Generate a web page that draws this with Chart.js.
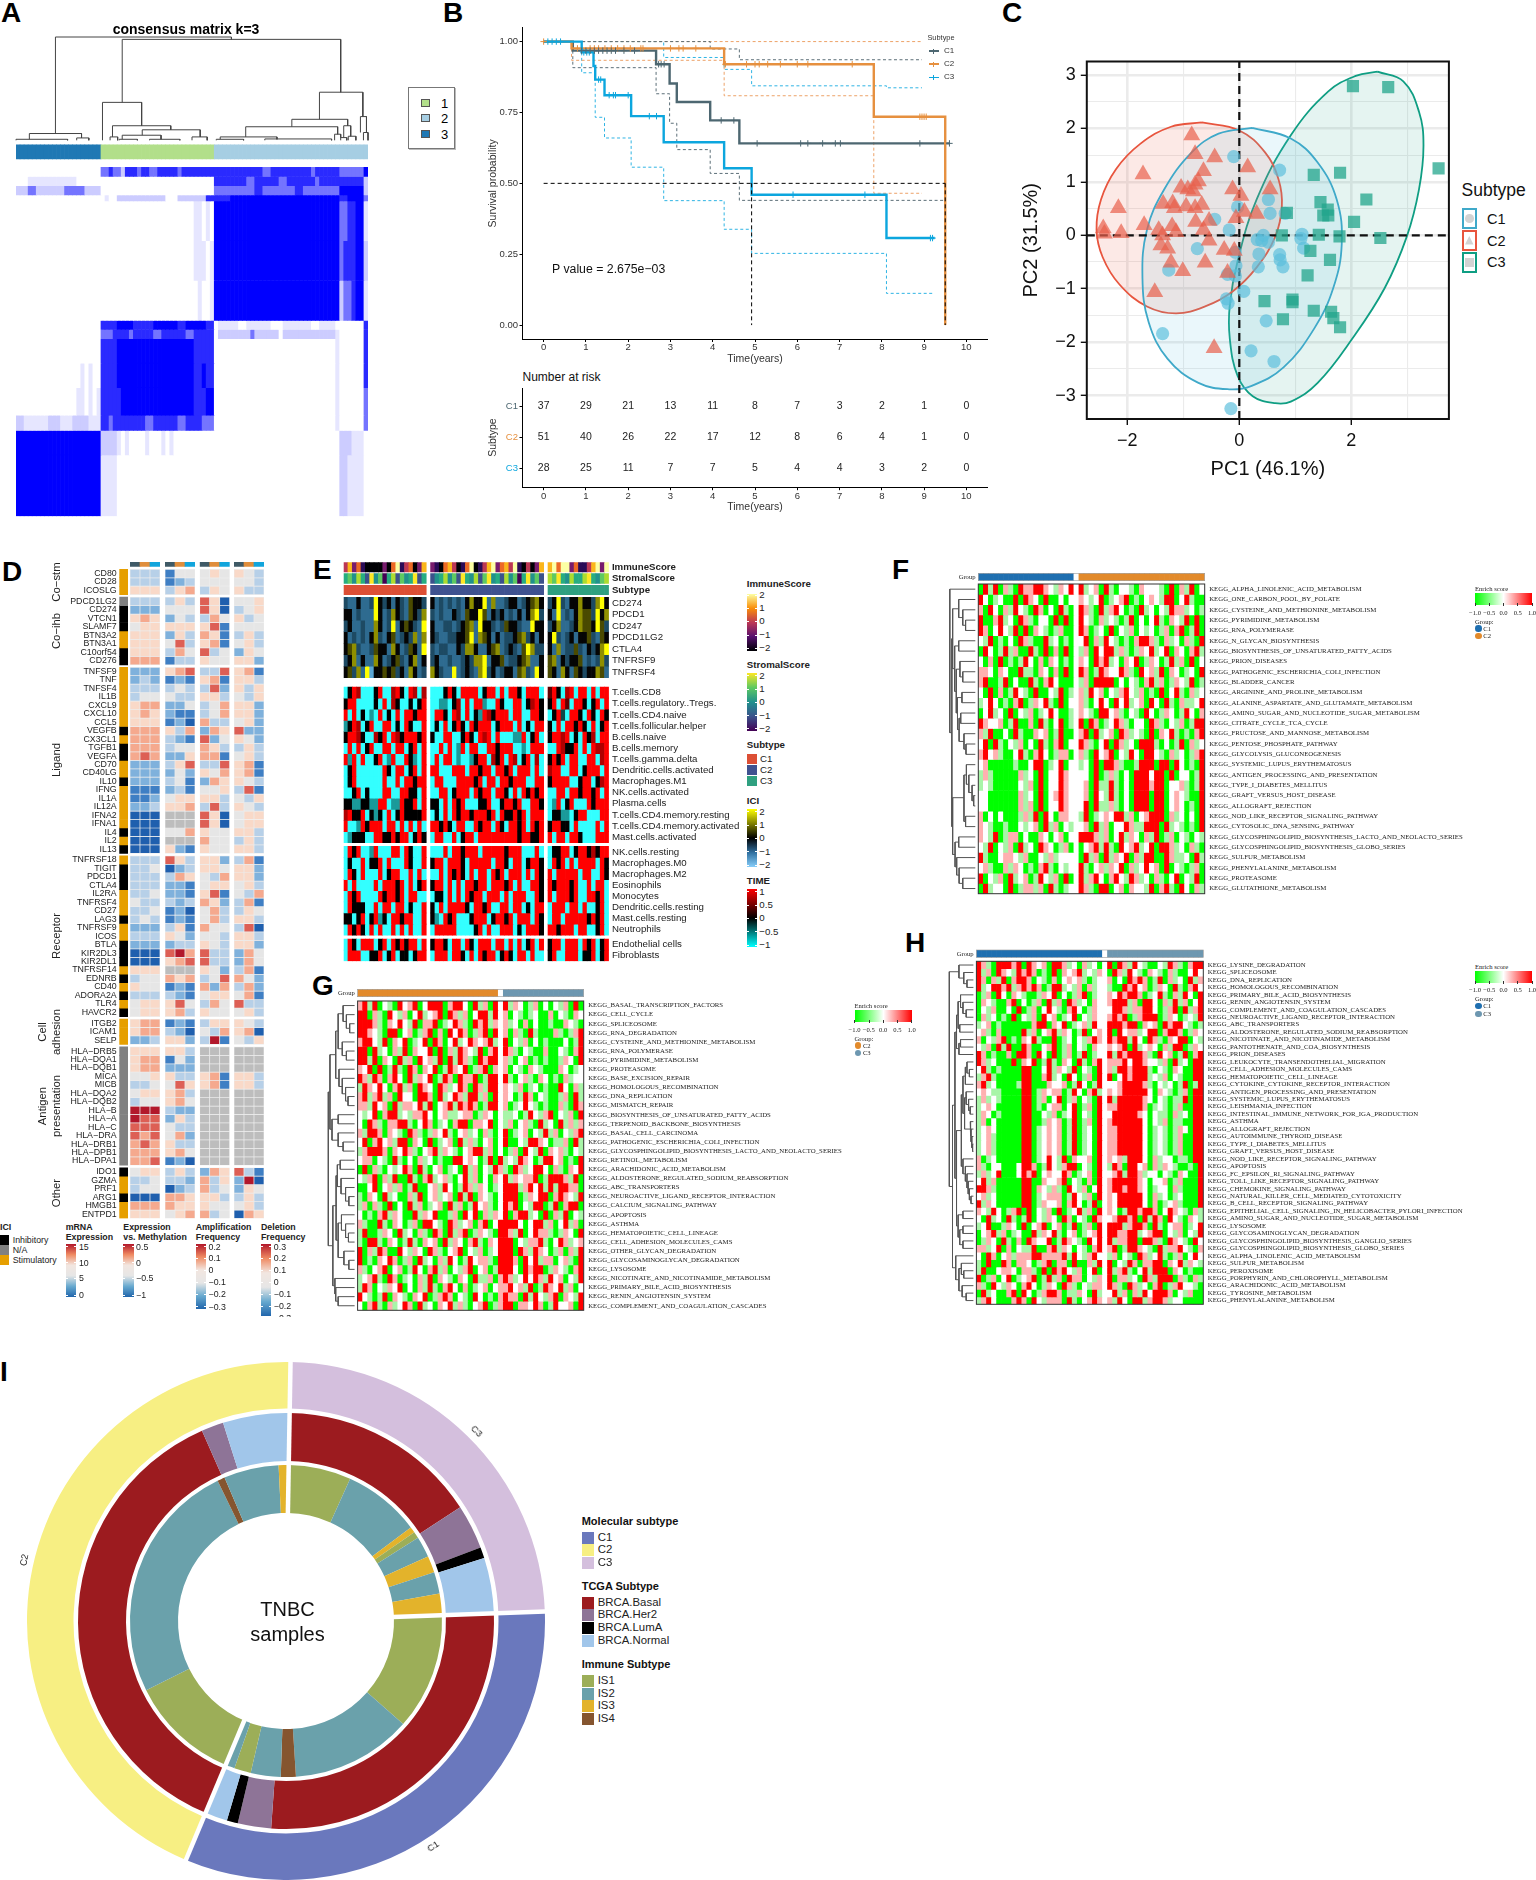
<!DOCTYPE html>
<html lang="en">
<head>
<meta charset="UTF-8">
<title>TNBC subtypes figure</title>
<script src="https://cdn.jsdelivr.net/npm/chart.js"></script>
<style>
  body { margin: 0; background: #fff; }
  #page { position: relative; width: 1536px; height: 1880px; overflow: hidden; font-family: "Liberation Sans", Arial, sans-serif; color: #222; }
  #page canvas { position: absolute; }
  .t { position: absolute; white-space: nowrap; line-height: 1; }
  .b { position: absolute; box-sizing: border-box; }
</style>
</head>
<body>
<div id="page"></div>
<script>
// ---------- panel A: consensus matrix, runs of "level + count" per row, [runs, repeat]
const aRows = [
  ['w21 m2 d1 m2 q1 d3 m1 d2 m2 d5 m1 d8 d12 m2 d10 m1 d6 m6 b1', 3],
  ['w3 p12 w6 w28 d8 m2 d6 m2 d7 m1 d5 d6 q1', 3],
  ['q3 m2 q7 m5 q4 w28 m10 d2 m8 d2 m9 b6 q1', 3],
  ['w21 w1 p1 w2 q12 w3 q7 d2 d4 b27 d2 b4 m1', 2],
  ['w21 w23 p2 w1 p1 w1 b31 m2 d2 b2 p1', 13],
  ['w21 w23 p3 w1 p1 b31 m1 d3 b2 q1', 13],
  ['w21 w24 p1 w2 p1 b31 q1 m2 d1 b2 p1', 13],
  ['w21 d4 b4 d5 b6 d2 b5 d2 w1 p5 w2 p6 w3 p7 w2 p4 w1 w6 d1', 3],
  ['w21 m3 d4 m1 d5 m2 d6 m2 d5 w1 q8 m1 q6 w1 q13 p1 w6 d1', 3],
  ['w21 d4 b19 d5 w30 p1 w6 d1', 8],
  ['w16 p1 w1 p1 w2 d4 b19 d2 b1 d2 w30 p1 w6 d1', 8],
  ['w15 p2 w1 p1 w1 p1 d5 b18 d3 b2 w30 p1 w6 m1', 9],
  ['q2 p6 q3 p3 q4 p3 d2 m1 d8 m2 d6 m2 d4 m3 w30 p1 w6 m1', 5],
  ['b21 q4 p1 w1 p1 w4 p1 w3 p1 w1 p1 w10 w31 q3 p3 w1', 8],
  ['b21 p4 w24 w31 q2 p4 w1', 20]
];
const aGroupCols = [21, 28, 38];
const aDend = [[305,13,20,71,298],[298,35,112,107,142],[112,28.5,0,41.4,43],[43,31.8,10,51,31],[31,41.6,15,60.7,10],[15,35,3,47.8,3],[10,31,0,33.5,0],[3,34,0,40,0],[3,44,0,54,0],[10,58,0,63,0],[20,4.4,3,21.6,7],[3,0,0,17,0],[7,20,0,24,0],[142,100,62,114.3,70],[62,90.9,40,109.3,43],[40,75.7,10,106,18],[10,67.3,3,86,3],[3,66,0,75,0],[4,82,0,104,0],[18,105,0,107,8],[43,108,8,110.3,12],[8,107,0,109,0],[12,109.5,0,112,0],[70,113.5,23,115.5,23],[23,114.5,0,116,0]];

// ---------- panel B: Kaplan-Meier steps
const c1Time = [0,.69,2.66,2.98,3.15,3.94,4.63,9.6], c1Surv = [1,.968,.92,.852,.787,.722,.641,.641];
const c2Time = [0,.66,4.27,7.81,9.5], c2Surv = [1,.976,.92,.735,0];
const c3Time = [0,.9,1.18,1.22,1.44,2.07,2.84,4.27,4.92,8.11,9.25], c3Surv = [1,.962,.914,.866,.811,.737,.645,.553,.46,.307,.307];
const c1LowT = [.69,.69,2.66,2.98,3.15,3.94,4.63,9.5], c1LowS = [.968,.908,.816,.712,.619,.535,.44,.44];
const c1UpT = [0,3.94,4.63,8.95], c1UpS = [1,.974,.936,.936];
const c2LowT = [.66,.66,4.27,7.81,8.95], c2LowS = [.976,.934,.809,.465,.465];
const c2UpT = [0,8.95], c2UpS = [1,1];
const c3LowT = [.9,.9,1.22,1.44,2.07,2.84,4.27,4.92,8.11,9.2], c3LowS = [.962,.89,.733,.66,.557,.439,.338,.253,.112,.112];
const c3UpT = [0,2.84,4.27,4.92,8.11,8.95], c3UpS = [1,.944,.902,.844,.837,.837];
const c1CensT = [.9,1,1.1,1.2,1.3,1.4,1.5,1.6,1.7,1.9,2.15,2.72,2.78,2.85,4.2,4.5,5.05,6.08,6.25,6.6,6.9,7.02,8.9,9.6];
const c1CensS = [.968,.968,.968,.968,.968,.968,.968,.968,.968,.968,.968,.92,.92,.92,.722,.722,.641,.641,.641,.641,.641,.641,.641,.641];
const c2CensT = [0,.8,1.1,1.2,1.3,1.45,1.6,1.75,1.9,2.05,2.3,2.35,3,3.2,3.3,3.6,4.3,4.8,5,5.1,5.3,5.6,6,6.25,7.3,8.9,8.95,9,9.05];
const c2CensS = [1,.976,.976,.976,.976,.976,.976,.976,.976,.976,.976,.976,.976,.976,.976,.976,.92,.92,.92,.92,.92,.92,.92,.92,.92,.735,.735,.735,.735];
const c3CensT = [.1,.2,.3,.4,.95,1.02,1.08,1.3,1.35,1.55,1.65,1.7,2,2.5,2.67,5.9,7.6,9.15,9.2];
const c3CensS = [1,1,1,1,.962,.962,.962,.866,.866,.811,.811,.811,.811,.737,.737,.46,.46,.307,.307];
const riskTimes = [0,1,2,3,4,5,6,7,8,9,10];
const riskC1 = [37,29,21,13,11,8,7,3,2,1,0];
const riskC2 = [51,40,26,22,17,12,8,6,4,1,0];
const riskC3 = [28,25,11,7,7,5,4,4,3,2,0];

// ---------- panel C: PCA
const c1Pc1 = [-.10,.72,.52,-.03,.55,.82,-.44,-.18,.43,1.12,.32,.40,.52,-.75,-.07,1.10,1.15,.35,.72,.73,.78,.34,-.06,-1.26,-.21,-.07,.08,-.23,-.20,.48,-1.37,.21,.62,-.15];
const c1Pc2 = [1.47,1.22,.67,.53,.41,.41,.30,.10,0,.02,-.08,-.10,-.13,-.25,-.32,-.06,-.24,-.35,-.36,-.46,-.59,-.59,-.57,-.65,-.73,-.76,-1.05,-1.19,-1.27,-1.60,-1.84,-2.16,-2.36,-3.24];
const c2Pc1 = [-.85,-.79,-.44,.15,-1.72,-.64,-.73,-.79,-.92,-1.04,-.82,-.12,.55,.03,-2.16,-1.36,-1.19,-1.16,-.79,-.67,-.95,.09,.31,-.06,-.78,-.54,-1.70,-1.20,-2.43,-2.11,-2.41,-1.44,-1.37,-1.13,-.64,-.54,-1.40,-1.28,-.27,-.09,-1.22,-.61,-1.01,-.21,-1.51,-.45];
const c2Pc2 = [1.87,1.52,1.46,1.27,1.14,1.20,1.01,.95,.86,.89,.82,.86,.86,.74,.51,.59,.60,.51,.51,.57,.54,.44,.40,.32,.25,.27,.19,.17,.13,.04,.03,.10,0,.06,.10,-.10,-.19,-.25,-.27,-.29,-.51,-.51,-.67,-.70,-1.06,-2.11];
const c3Pc1 = [2.03,2.66,3.56,1.33,1.80,2.27,1.45,1.58,.85,1.50,1.59,2.05,.76,1.42,1.79,2.52,1.27,1.62,1.22,.95,.95,.45,1.33,1.64,1.68,.78,1.80];
const c3Pc2 = [2.79,2.77,1.25,1.13,1.17,.67,.62,.48,.42,.37,.37,.25,0,.01,-.02,-.05,-.29,-.46,-.75,-1.20,-1.25,-1.23,-1.41,-1.43,-1.55,-1.57,-1.72];
const c1EllX = [.23,.92,1.40,1.74,1.83,1.68,1.34,.79,.21,-.18,-.73,-1.28,-1.62,-1.73,-1.65,-1.34,-.85,-.37,.23];
const c1EllY = [2.01,1.81,1.36,.67,-.16,-.98,-1.74,-2.47,-2.82,-2.88,-2.76,-2.31,-1.62,-.79,.10,.86,1.55,1.90,2.01];
const c2EllX = [-.67,0,.46,.70,.76,.64,.31,-.12,-.61,-1.13,-1.65,-2.14,-2.44,-2.55,-2.47,-2.20,-1.77,-1.22,-.67];
const c2EllY = [2.11,1.96,1.55,1.05,.54,-.03,-.60,-1.05,-1.33,-1.46,-1.33,-.92,-.41,.10,.67,1.24,1.71,2.03,2.11];
const c3EllX = [2.47,2.93,3.21,3.29,3.21,2.99,2.60,2.02,1.40,.92,.64,.24,-.03,-.17,-.17,-.03,.31,.92,1.59,2.08,2.47];
const c3EllY = [3.06,2.88,2.31,1.68,.86,-.03,-.98,-1.93,-2.76,-3.11,-3.14,-3.01,-2.63,-1.93,-1.30,-.48,.67,1.87,2.69,2.98,3.06];

// ---------- panel D: immune checkpoint table, cells are colour levels 0..8, x = no data
const dLabels = ['CD80','CD28','ICOSLG','PDCD1LG2','CD274','VTCN1','SLAMF7','BTN3A2','BTN3A1','C10orf54','CD276','TNFSF9','TNF','TNFSF4','IL1B','CXCL9','CXCL10','CCL5','VEGFB','CX3CL1','TGFB1','VEGFA','CD70','CD40LG','IL10','IFNG','IL1A','IL12A','IFNA2','IFNA1','IL4','IL2','IL13','TNFRSF18','TIGIT','PDCD1','CTLA4','IL2RA','TNFRSF4','CD27','LAG3','TNFRSF9','ICOS','BTLA','KIR2DL3','KIR2DL1','TNFRSF14','EDNRB','CD40','ADORA2A','TLR4','HAVCR2','ITGB2','ICAM1','SELP','HLA−DRB5','HLA−DQA1','HLA−DQB1','MICA','MICB','HLA−DQA2','HLA−DQB2','HLA−B','HLA−A','HLA−C','HLA−DRA','HLA−DRB1','HLA−DPB1','HLA−DPA1','IDO1','GZMA','PRF1','ARG1','HMGB1','ENTPD1'];
const dIci = 'SSS NIIISSII SSSSSSSISIISSISSSSSISI SIIISSSISSIIISISISI SSS NNNNNNNNNNNNNN ISSISS';
const dBlocks = [3, 8, 22, 19, 3, 14, 6];
const dCells = ['333144454543','333123444443','555356354533','333353750445','222444750345','565243364534','455555571444','555253651353','555473561453','555364734254','666133544552','222567337561','232121561553','333343372535','344433553435','566224346552','565211346552','555120633452','666536265722','666321724542','666344653353','676225661453','222357337561','222242546561','222341265543','111231445371','112455553435','223556373543','000xxx750455','000xxx750455','000446544553','000xxx644353','000521544553','333753552361','334023554552','333365436552','333221455453','334221571436','433323652361','334120463354','343121463553','222351644370','333542443553','222233543552','000786733264','000567733264','555xxx542361','344656347642','544121626362','333321455461','455574364733','455563544453','566121355543','566320436560','223552381435','555553xxxxxx','566142xxxxxx','566222xxxxxx','445533561553','334475561553','455563xxxxxx','344564xxxxxx','888322xxxxxx','877253xxxxxx','777433xxxxxx','767462xxxxxx','676533xxxxxx','666564xxxxxx','667120xxxxxx','455353265731','334332635280','344023634254','000665553353','666655544453','555456634065'];

// ---------- panel E
const eImmune = '3524100002046134025 21045301460135624536103025 56466241135626';
const eStromal = '3425316240351423613 12352416325146231524036241 54632533563245';
const eIciLabels = ['CD274','PDCD1','CD247','PDCD1LG2','CTLA4','TNFRSF9','TNFRSF4'];
const eIciRows = [
  '21131 12632 31321 4332 31212 12135 33615 11233 12345 3 23621 33533 2563',
  '33121 11631 25321 4325 21211 32143 36413 23121 31356 2 31612 13544 2635',
  '23112 11531 26134 3216 31122 12345 16332 12433 21163 3 23511 23544 3642',
  '31212 13521 34123 2515 32112 23346 15431 31223 45231 3 36212 31334 2143',
  '34521 12433 15312 4316 21221 13255 31134 51232 14652 2 31512 24213 2356',
  '23513 11531 23421 3513 23112 11232 55613 34122 34511 3 45132 33412 1252',
  '34251 60334 34231 5312 53211 61232 15623 12331 45216 3 43153 14323 3541'
];
const eTimeLabels = [
  ['T.cells.CD8','T.cells.regulatory..Tregs.','T.cells.CD4.naive','T.cells.follicular.helper','B.cells.naive','B.cells.memory','T.cells.gamma.delta','Dendritic.cells.activated','Macrophages.M1','NK.cells.activated','Plasma.cells','T.cells.CD4.memory.resting','T.cells.CD4.memory.activated','Mast.cells.activated'],
  ['NK.cells.resting','Macrophages.M0','Macrophages.M2','Eosinophils','Monocytes','Dendritic.cells.resting','Mast.cells.resting','Neutrophils'],
  ['Endothelial cells','Fibroblasts']
];
const eTimeRows = [[
  '03650 00360 05630 6505 00036 30666 60366 06066 30666 0 46305 60660 6066',
  '36600 00306 05300 3036 00110 35060 66100 63006 60356 3 36064 06630 3606',
  '60603 01060 30606 6366 06630 65060 31653 66606 60066 3 03620 66306 3063',
  '13650 36006 60306 3006 03060 36306 36660 36660 60306 6 30606 63630 6036',
  '36653 00536 06536 6636 30066 00363 06560 60001 16036 0 36656 03063 5066',
  '06060 36006 60660 3606 00606 01606 60066 36660 01066 6 00653 36060 6556',
  '61606 00360 16006 3106 06066 01001 36605 36065 03605 0 36360 66006 6056',
  '03600 00006 30660 3606 66000 66606 63660 66360 66606 0 56600 66036 6606',
  '03600 00006 00606 6366 06600 06666 36066 06636 66006 6 36666 00366 0356',
  '00360 30006 60066 3306 00660 36660 63660 66306 06363 6 00660 66366 3606',
  '33113 31166 01163 3606 33060 63600 03360 03663 60066 3 01603 60006 3666',
  '56336 03130 60363 3336 03060 63663 66636 06336 36066 6 03311 03660 0066',
  '60016 36660 66060 6060 66363 06600 63660 63066 36063 6 36633 06000 0606',
  '01333 00663 36366 0363 06600 60366 06666 66666 36633 6 60660 66300 0666'
],[
  '06360 01600 06606 3006 00060 66366 60666 66366 60006 0 03366 03663 5366',
  '03006 03360 60006 3006 36606 66306 66660 66306 60366 3 06360 60666 6063',
  '06306 00060 36600 6060 00606 36306 06606 36066 60606 3 60666 66066 0063',
  '60600 00606 66360 6036 36606 06066 36606 66360 60066 3 63666 36006 0660',
  '06360 00063 66360 6600 03306 06063 66066 60606 66006 3 60666 36006 6360',
  '06333 00606 60660 3006 30606 66630 66360 06606 60306 6 06660 66060 0360',
  '33036 03613 06636 6006 31063 60003 66603 66360 66606 3 06606 66663 6360',
  '06363 06060 06060 6006 06666 60000 36060 06660 30666 3 66366 60660 0360'
],[
  '06306 66036 06363 6606 36630 66063 06660 66060 60360 6 36606 66063 6036',
  '06660 03360 36033 0366 06660 66306 06366 03630 66060 0 36006 66033 6036'
]];

// ---------- panels F, G, H: enrichment, levels 0 green .. 2 white .. 4 red
const fLabels = ['ALPHA_LINOLENIC_ACID_METABOLISM','ONE_CARBON_POOL_BY_FOLATE','CYSTEINE_AND_METHIONINE_METABOLISM','PYRIMIDINE_METABOLISM','RNA_POLYMERASE','N_GLYCAN_BIOSYNTHESIS','BIOSYNTHESIS_OF_UNSATURATED_FATTY_ACIDS','PRION_DISEASES','PATHOGENIC_ESCHERICHIA_COLI_INFECTION','BLADDER_CANCER','ARGININE_AND_PROLINE_METABOLISM','ALANINE_ASPARTATE_AND_GLUTAMATE_METABOLISM','AMINO_SUGAR_AND_NUCLEOTIDE_SUGAR_METABOLISM','CITRATE_CYCLE_TCA_CYCLE','FRUCTOSE_AND_MANNOSE_METABOLISM','PENTOSE_PHOSPHATE_PATHWAY','GLYCOLYSIS_GLUCONEOGENESIS','SYSTEMIC_LUPUS_ERYTHEMATOSUS','ANTIGEN_PROCESSING_AND_PRESENTATION','TYPE_I_DIABETES_MELLITUS','GRAFT_VERSUS_HOST_DISEASE','ALLOGRAFT_REJECTION','NOD_LIKE_RECEPTOR_SIGNALING_PATHWAY','CYTOSOLIC_DNA_SENSING_PATHWAY','GLYCOSPHINGOLIPID_BIOSYNTHESIS_LACTO_AND_NEOLACTO_SERIES','GLYCOSPHINGOLIPID_BIOSYNTHESIS_GLOBO_SERIES','SULFUR_METABOLISM','PHENYLALANINE_METABOLISM','PROTEASOME','GLUTATHIONE_METABOLISM'];
const fRows = ['04140 31043 34432 13242 41230 41022 10322 21040 31402','42012 00404 32040 02022 32124 01234 01023 21440 24100','30420 31421 04302 04102 43104 13420 10412 02143 31201','40034 12043 10220 40402 42103 12101 40202 41032 14040','43024 21404 03210 13002 43012 04021 30212 01303 40140','21401 02043 10041 20102 24031 42101 03443 10312 03104','04201 41300 41040 30402 13042 44131 01324 12403 20341','20304 01014 20303 20102 32043 41203 24013 20141 30402','33203 20041 10320 30402 43014 32243 10423 14032 01204','34001 40200 41034 20002 13044 44020 21034 13013 21401','20403 01421 04002 14012 31423 02134 21301 04024 10312','12420 10340 13241 04022 31024 20424 12304 20410 31124','02412 04021 30124 20012 32104 42310 21042 01320 14203','43223 01400 30410 24012 40430 12431 02204 31021 30144','31400 20410 03230 14002 34041 23043 12104 03241 01034','24041 02130 20410 34022 43102 40431 20444 10201 40312','34231 00241 03420 13302 31042 34021 42044 21031 20134','23000 00100 24401 24022 12040 44310 01444 04404 20104','13100 00031 20402 24322 22040 13102 04442 44040 22014','12100 00021 30402 24322 23041 14102 04443 44022 31014','22000 00031 20402 34322 23042 14102 04440 44023 21004','22000 00031 30402 24322 24041 13102 04440 44023 20104','30202 00013 14042 03322 14012 32441 30234 44031 20204','32100 10021 23041 30212 23041 30224 31144 40412 10104','32140 13302 00320 23022 44431 30241 32031 40130 21021','21402 13041 20432 01302 02341 41042 34124 04431 20310','41002 33213 00213 12222 04130 41324 03144 00431 12041','23100 31320 10341 02122 41023 13240 31242 30402 10130','40213 04123 01421 30402 41342 03421 43120 31024 02140','04122 04013 31304 10122 43104 40230 32214 03410 42031'];
const fDend = [[24,3,0,4,0],[31,2,0,3.5,24],[41,1,0,2.75,31],[41,5,0,6,0],[31,8,0,9,0],[38,7,0,8.5,31],[33,10,0,11,0],[23,15,0,16,0],[28,14,0,15.5,23],[36,12,0,13,0],[40,12.5,36,14.75,28],[44,10.5,33,13.6,40],[47,7.75,38,12,44],[51,5.5,41,9.9,47],[56,1.9,41,7.7,51],[4,20,0,21,0],[8,19,0,20.5,4],[16,18,0,19.7,8],[22,17,0,18.9,16],[24,22,0,23,0],[28,18,22,22.5,24],[41,24,0,25,0],[31,28,0,29,0],[40,27,0,28.5,31],[46,26,0,27.7,40],[50,24.5,41,26.9,46],[56,20.2,28,25.7,50],[58,4.8,56,23,56],[63,0,0,13.9,58]];
const gLabels = ['BASAL_TRANSCRIPTION_FACTORS','CELL_CYCLE','SPLICEOSOME','RNA_DEGRADATION','CYSTEINE_AND_METHIONINE_METABOLISM','RNA_POLYMERASE','PYRIMIDINE_METABOLISM','PROTEASOME','BASE_EXCISION_REPAIR','HOMOLOGOUS_RECOMBINATION','DNA_REPLICATION','MISMATCH_REPAIR','BIOSYNTHESIS_OF_UNSATURATED_FATTY_ACIDS','TERPENOID_BACKBONE_BIOSYNTHESIS','BASAL_CELL_CARCINOMA','PATHOGENIC_ESCHERICHIA_COLI_INFECTION','GLYCOSPHINGOLIPID_BIOSYNTHESIS_LACTO_AND_NEOLACTO_SERIES','RETINOL_METABOLISM','ARACHIDONIC_ACID_METABOLISM','ALDOSTERONE_REGULATED_SODIUM_REABSORPTION','ABC_TRANSPORTERS','NEUROACTIVE_LIGAND_RECEPTOR_INTERACTION','CALCIUM_SIGNALING_PATHWAY','APOPTOSIS','ASTHMA','HEMATOPOIETIC_CELL_LINEAGE','CELL_ADHESION_MOLECULES_CAMS','OTHER_GLYCAN_DEGRADATION','GLYCOSAMINOGLYCAN_DEGRADATION','LYSOSOME','NICOTINATE_AND_NICOTINAMIDE_METABOLISM','PRIMARY_BILE_ACID_BIOSYNTHESIS','RENIN_ANGIOTENSIN_SYSTEM','COMPLEMENT_AND_COAGULATION_CASCADES'];
const gRows = ['34140 21042 34024 44034 42041 30424 13201 30202 13040','44031 04213 02412 34043 13024 41423 02101 20030 21032','44431 03242 14033 40124 31043 41323 12030 20010 03210','44321 04402 30134 03042 43013 40423 03104 10003 10134','34421 40324 01240 43024 12432 34124 02130 20100 02014','44041 20314 03224 04031 43214 03424 31021 00300 21034','44140 32041 30423 14041 43104 34423 10230 10100 13204','32404 01410 43032 40143 24013 40323 02103 21000 32012','43143 03420 41324 01430 43340 14424 10231 03201 03122','14324 20341 30432 04312 43043 14423 21301 20100 42031','34134 13042 20443 04124 31441 30423 20143 02100 13041','33142 30413 32414 02341 43430 14423 01242 10100 31043','21240 34412 13342 02311 23301 32021 12014 21340 21304','20431 03344 10243 01203 44033 24021 30231 04120 41313','31443 03210 43101 32410 23120 31024 01230 21413 02134','24034 23144 03204 01230 41310 23024 00214 43201 13041','13444 30324 31023 41321 02344 13020 13042 14032 31021','23302 10410 20312 01004 42320 14041 21432 01442 30104','04031 02124 30410 23012 04130 21431 04312 44203 10324','21340 31400 41034 12310 24130 20324 13233 40144 43140','00240 23130 14002 31420 14313 20124 44134 24141 44330','10320 41200 31402 31230 41403 21024 44013 24403 43214','13031 04020 41301 23041 30142 31024 34021 44014 03440','20103 41320 04132 40013 04240 31324 03441 20403 14021','31004 10320 13044 21043 12303 40244 44202 44130 24130','14001 32041 20310 43041 34013 21044 31402 43310 13204','10441 03201 41032 30413 20341 03244 40213 34102 43123','40314 30042 13204 31023 40213 01244 40431 43201 30314','40103 24301 30412 03142 01423 31044 43042 41330 23104','31023 40230 14203 41302 13402 30144 42043 44013 21034','12341 04301 20314 03210 32041 13034 31242 43142 30214','14302 13240 20314 10342 03012 30233 42314 01432 41302','42101 40321 03240 13430 21042 01034 33041 42134 03214','20341 03124 30412 03241 31023 40134 40332 43014 22304'];
const gDend = [[12,2,0,3,0],[20,1,0,2.5,12],[28,0,0,1.75,20],[20,5,0,6,0],[30,4,0,5.5,20],[40,.9,28,4.75,30],[16,10,0,11,0],[22,9,0,10.5,16],[30,8,0,9.7,22],[38,7,0,8.9,30],[46,2.8,40,8,38],[40,12,0,13,0],[28,15,0,16,0],[40,14,0,15.5,28],[55,12.5,40,14.8,40],[60,5.4,46,13.6,55],[35,17,0,18,0],[14,21,0,22,0],[22,20,0,21.5,14],[33,19,0,20.7,22],[42,17.5,35,19.9,33],[15,25,0,26,0],[22,24,0,25.5,15],[32,23,0,24.7,22],[14,28,0,29,0],[26,27,0,28.5,14],[40,23.9,32,27.7,26],[45,18.7,42,25.8,40],[40,32,0,33,0],[46,31,0,32.5,40],[48,30,0,31.7,46],[53,22,45,30.8,48],[64,9.5,60,26.4,53]];
const hLabels = ['LYSINE_DEGRADATION','SPLICEOSOME','DNA_REPLICATION','HOMOLOGOUS_RECOMBINATION','PRIMARY_BILE_ACID_BIOSYNTHESIS','RENIN_ANGIOTENSIN_SYSTEM','COMPLEMENT_AND_COAGULATION_CASCADES','NEUROACTIVE_LIGAND_RECEPTOR_INTERACTION','ABC_TRANSPORTERS','ALDOSTERONE_REGULATED_SODIUM_REABSORPTION','NICOTINATE_AND_NICOTINAMIDE_METABOLISM','PANTOTHENATE_AND_COA_BIOSYNTHESIS','PRION_DISEASES','LEUKOCYTE_TRANSENDOTHELIAL_MIGRATION','CELL_ADHESION_MOLECULES_CAMS','HEMATOPOIETIC_CELL_LINEAGE','CYTOKINE_CYTOKINE_RECEPTOR_INTERACTION','ANTIGEN_PROCESSING_AND_PRESENTATION','SYSTEMIC_LUPUS_ERYTHEMATOSUS','LEISHMANIA_INFECTION','INTESTINAL_IMMUNE_NETWORK_FOR_IGA_PRODUCTION','ASTHMA','ALLOGRAFT_REJECTION','AUTOIMMUNE_THYROID_DISEASE','TYPE_I_DIABETES_MELLITUS','GRAFT_VERSUS_HOST_DISEASE','NOD_LIKE_RECEPTOR_SIGNALING_PATHWAY','APOPTOSIS','FC_EPSILON_RI_SIGNALING_PATHWAY','TOLL_LIKE_RECEPTOR_SIGNALING_PATHWAY','CHEMOKINE_SIGNALING_PATHWAY','NATURAL_KILLER_CELL_MEDIATED_CYTOTOXICITY','B_CELL_RECEPTOR_SIGNALING_PATHWAY','EPITHELIAL_CELL_SIGNALING_IN_HELICOBACTER_PYLORI_INFECTION','AMINO_SUGAR_AND_NUCLEOTIDE_SUGAR_METABOLISM','LYSOSOME','GLYCOSAMINOGLYCAN_DEGRADATION','GLYCOSPHINGOLIPID_BIOSYNTHESIS_GANGLIO_SERIES','GLYCOSPHINGOLIPID_BIOSYNTHESIS_GLOBO_SERIES','ALPHA_LINOLENIC_ACID_METABOLISM','SULFUR_METABOLISM','PEROXISOME','PORPHYRIN_AND_CHLOROPHYLL_METABOLISM','ARACHIDONIC_ACID_METABOLISM','TYROSINE_METABOLISM','PHENYLALANINE_METABOLISM'];
const hRows = ['43104 44340 43230 44312 03120 24043 14210 02143 10344','41304 32143 43010 40323 41213 20431 42103 21031 00242','43031 40344 30210 30232 31012 23020 43430 14031 20413','41244 34134 34301 44121 30312 21004 34230 13204 10342','01304 20321 00132 40201 34012 23243 44301 24103 14204','03210 03402 01304 13043 12032 23444 13044 20314 13024','02130 02040 13024 21034 20132 22443 13344 20134 04134','03120 10402 13042 30124 02132 23434 01344 40132 01214','12301 00000 03440 32401 23142 24443 44032 30434 42101','23103 00004 13023 41320 14023 24042 33124 40344 30132','30213 40103 24100 40120 21343 24344 14204 31032 44021','21304 14004 30023 40130 21032 23234 04123 20314 40132','43010 03044 30420 40130 14012 24143 44431 04230 14034','43120 00403 24014 10320 41034 23334 24432 21304 12044','24101 00004 40024 13214 02104 23144 34441 02103 20044','13410 00004 40034 12042 01304 24024 34441 21302 10044','34120 00014 40003 22301 42014 22234 44431 02120 14014','23211 00004 40132 33014 20341 23234 44442 03210 13044','13121 00004 40130 24013 02104 24144 44432 02101 14044','12320 00004 40102 33024 01304 23344 44430 12101 30044','13201 00004 40021 30124 02104 22444 44320 21103 12044','13020 00004 40013 23014 01304 23444 44420 21301 10044','12320 00004 40123 23014 01204 23344 44420 12101 32044','12310 00004 40123 23014 01204 23344 44420 12101 30044','12310 00004 40123 23014 01204 23344 44420 12101 30044','12310 00004 40123 23014 01204 23344 44420 12101 30044','30120 00004 40124 21403 22304 23231 44420 31220 11044','31022 00024 43014 21344 02104 21430 44230 31321 00104','13124 00024 34023 22430 12304 22341 44312 20210 32004','24130 00004 40032 23402 10304 23444 44320 22301 30004','44310 00004 40321 31042 13024 23443 44320 12203 10004','23120 00004 40123 33014 21304 23244 44420 31201 20004','41320 00004 40132 23034 20140 23244 44420 30123 10004','32142 01340 40213 04012 41304 23201 44344 30243 21031','20412 04101 40213 20430 21043 22344 34041 43042 10321','12400 13204 02340 23014 01304 24441 34430 41023 30124','02341 30120 04132 41023 01234 24433 44123 44021 30214','01320 41030 43224 01432 10424 24133 44044 31043 21042','33124 03021 14003 41320 21034 23401 44321 04133 42103','20430 23133 34433 33414 21342 21302 10431 24101 30242','10400 43033 20134 03304 00314 24021 43033 44032 41321','14002 33203 31040 43421 30240 24134 10241 44403 20100','40130 24012 34014 13043 30213 24033 12043 14440 31031','31042 13203 42013 20431 02133 24310 43120 34013 42210','04120 03404 20134 43011 32041 22413 03142 44430 21300','13420 00343 04213 33041 02343 23142 04413 44312 20000'];
const hDend = [[16,2,0,3,0],[24,1,0,2.5,16],[36,0,0,1.75,24],[18,6,0,7,0],[26,5,0,6.5,18],[32,4,0,5.7,26],[34,8,0,9,0],[38,4.9,32,8.5,34],[32,10,0,11,0],[36,10.5,32,12,0],[42,6.7,38,11.2,36],[10,14,0,15,0],[16,13,0,14.5,10],[20,13.7,16,16,0],[8,19,0,20,0],[12,18,0,19.5,8],[18,17,0,18.7,12],[2,24,0,25,0],[4,23,0,24.5,2],[6,22,0,23.7,4],[8,21,0,22.9,6],[22,17.8,18,22,8],[26,14.9,20,19.9,22],[6,31,0,32,0],[10,30,0,31.5,6],[13,29,0,30.7,10],[16,28,0,29.9,13],[20,27,0,29,16],[26,26,0,28,20],[30,17.4,26,27,26],[26,33,0,34,0],[26,35,0,36,0],[26,37,0,38,0],[34,35.5,26,37.5,26],[38,33.5,26,36.5,34],[42,22.2,30,35,38],[46,9,42,28.6,42],[24,41,0,42,0],[30,40,0,41.5,24],[18,44,0,45,0],[28,43,0,44.5,18],[36,40.7,30,43.7,28],[44,39,0,42.2,36],[52,18.8,46,40.6,44],[60,.9,36,29.7,52]];

// ---------- panel I: nested rings, sample counts
const subtypeTags = ['C3','C1','C2'];
const subtypeCounts = [28,37,51];
const tcgaTags = ['Basal','Her2','LumA','Normal','Basal','Her2','LumA','Normal','Basal','Her2','Normal'];
const tcgaCounts = [18,4,1,5,31,3,1,2,43,2,6];
const immuneTags = ['IS1','IS2','IS3','IS1','IS2','IS3','IS2','IS3','IS1','IS2','IS4','IS2','IS1','IS2','IS1','IS2','IS4','IS2','IS3'];
const immuneCounts = [7.5,9.3,.7,.8,2.5,2,2.6,2.6,14,14.5,1.8,3.6,2,1.1,13.2,29.1,.9,6.6,1.2];

// ---------- helpers
const page = document.getElementById('page');
const SANS = '"Liberation Sans", Arial, sans-serif', SERIF = '"Liberation Serif", "Times New Roman", serif';
const CLEAR = 'rgba(0,0,0,0)';
Chart.defaults.font.family = SANS;
Chart.defaults.color = '#222';
Chart.defaults.animation = false;
Chart.defaults.responsive = false;
Chart.defaults.plugins.legend.display = false;
Chart.defaults.plugins.tooltip.enabled = false;
Chart.register({ id: 'frame', afterDatasetsDraw(c, _, o) {
  if (!o.lineColor) return;
  const a = c.chartArea, x = c.ctx;
  x.save(); x.strokeStyle = o.lineColor; x.lineWidth = o.lineW || 1;
  x.strokeRect(a.left, a.top, a.right - a.left, a.bottom - a.top); x.restore();
}});
// keep the plot area exactly where it is asked to be, whatever the tick labels want
const noPad = s => { s.paddingTop = s.paddingBottom = s.paddingLeft = s.paddingRight = 0; };

function txt(s, x, y, o = {}) {
  const d = document.createElement('div');
  d.className = 't'; d.textContent = s;
  d.style.cssText = `left:${x}px;top:${y}px;font-size:${o.size || 9}px;font-weight:${o.bold ? 'bold' : 'normal'};color:${o.color || '#222'};font-family:${o.font || SANS};` +
    `transform:translate(${o.anchor === 'c' ? '-50%' : o.anchor === 'r' ? '-100%' : '0'},-50%) rotate(${o.rot || 0}deg)`;
  page.appendChild(d);
}
function box(x, y, w, h, bg, extra = '') {
  const d = document.createElement('div');
  d.className = 'b';
  d.style.cssText = `left:${x}px;top:${y}px;width:${w}px;height:${h}px;background:${bg};${extra}`;
  page.appendChild(d);
  return d;
}
function cbar(x, y, w, h, stops, labels, size = 9) {
  box(x, y, w, h, `linear-gradient(to bottom,${stops.join(',')})`);
  labels.forEach(([s, ly]) => {
    txt(s, x + w + 2.5, ly, { size });
    box(x, ly - .4, 2, .8, '#fff'); box(x + w - 2, ly - .4, 2, .8, '#fff');
  });
}
function mkCanvas(x, y, w, h) {
  const c = document.createElement('canvas');
  c.width = w; c.height = h;
  c.style.left = x + 'px'; c.style.top = y + 'px';
  page.appendChild(c);
  return c;
}
const dec = s => s.replace(/\s/g, '').split('');
const zip = (a, b) => a.map((v, i) => ({ x: v, y: b[i] }));

// heatmap as a stacked bar chart: one dataset per row, one bar per column
function heatChart(o) {
  const lw = o.labelW || 0, left = o.side === 'left' ? lw : 0, right = o.side === 'right' ? lw : 0;
  const cx = Math.floor(o.x - left) - 1, cy = Math.floor(o.y) - 1;
  const cr = Math.ceil(o.x + o.w + right) + 1, cb = Math.ceil(o.y + o.h) + 1;
  const total = o.rows.reduce((s, r) => s + r.h, 0);
  const tickVals = [], tickText = [];
  let run = 0;
  o.rows.forEach(r => { if (r.label) { tickVals.push(run + r.h / 2); tickText.push(r.label); } run += r.h; });
  new Chart(mkCanvas(cx, cy, cr - cx, cb - cy), {
    type: 'bar',
    data: {
      labels: Array.from({ length: o.ncols }, (_, i) => i),
      datasets: o.rows.map(r => ({
        data: Array(o.ncols).fill(r.h), backgroundColor: r.colors || CLEAR, stack: 's',
        barPercentage: 1, categoryPercentage: 1,
        borderWidth: r.cellBorder ? .7 : 0, borderColor: 'rgba(235,235,235,.9)', borderSkipped: false
      }))
    },
    options: {
      layout: { autoPadding: false, padding: { left: o.x - left - cx, top: o.y - cy, right: cr - (o.x + o.w + right), bottom: cb - (o.y + o.h) } },
      plugins: { frame: { lineColor: o.frame, lineW: o.frameW || 1 } },
      scales: {
        x: { stacked: true, display: false },
        y: {
          stacked: true, reverse: true, min: 0, max: total, position: o.side || 'left', display: !!lw,
          grid: { display: false, drawTicks: false }, border: { display: false },
          afterFit: s => { s.width = lw; noPad(s); },
          afterBuildTicks: s => { s.ticks = tickVals.map(v => ({ value: v })); },
          ticks: { autoSkip: false, padding: o.tickPad || 3, maxRotation: 0, color: '#222', font: o.font, callback: (v, i) => tickText[i] }
        }
      }
    }
  });
}
// dendrogram, brackets are [height, pos1, childHeight1, pos2, childHeight2]
function dendChart(o) {
  const pts = [];
  o.brackets.forEach(([h, a, ha, b, hb]) => {
    if (o.top) pts.push({ x: a, y: ha }, { x: a, y: h }, { x: b, y: h }, { x: b, y: hb }, { x: null, y: null });
    else pts.push({ x: ha, y: a + .5 }, { x: h, y: a + .5 }, { x: h, y: b + .5 }, { x: hb, y: b + .5 }, { x: null, y: null });
  });
  const cx = Math.floor(o.x) - 1, cy = Math.floor(o.y) - 1, cr = Math.ceil(o.x + o.w) + 1, cb = Math.ceil(o.y + o.h) + 1;
  new Chart(mkCanvas(cx, cy, cr - cx, cb - cy), {
    type: 'scatter',
    data: { datasets: [{ data: pts, showLine: true, pointRadius: 0, borderColor: o.color || '#555', borderWidth: 1, clip: false, spanGaps: false }] },
    options: {
      layout: { autoPadding: false, padding: { left: o.x - cx, top: o.y - cy, right: cr - o.x - o.w, bottom: cb - o.y - o.h } },
      scales: o.top
        ? { x: { display: false, min: 0, max: o.xmax }, y: { display: false, min: 0, max: o.ymax } }
        : { x: { display: false, min: 0, max: o.xmax, reverse: true }, y: { display: false, min: 0, max: o.ymax, reverse: true } }
    }
  });
}

// ---------- panel letters
[['A',1,13],['B',443,13],['C',1002,13],['D',2,572],['E',313,570],['F',892,570],['G',312,986],['H',905,943],['I',0,1372]].forEach(([s, x, y]) => txt(s, x, y, { size: 28, bold: true, color: '#000' }));

// ---------- A
const aLevels = { w: '#ffffff', p: '#e6e6ff', q: '#ccccff', m: '#7474ff', d: '#2a2aff', b: '#0000ff' };
const aColors = r => r.split(' ').flatMap(tok => Array(+tok.slice(1)).fill(aLevels[tok[0]]));
const aAnnot = [].concat(Array(aGroupCols[0]).fill('#1f78b4'), Array(aGroupCols[1]).fill('#b2df8a'), Array(aGroupCols[2]).fill('#a6cee3'));
const aHeat = [{ h: 14.5, colors: aAnnot }, { h: 8.4 }];
const aUnit = 348.9 / aRows.reduce((s, r) => s + r[1], 0);
aRows.forEach(([r, n]) => aHeat.push({ h: n * aUnit, colors: aColors(r) }));
heatChart({ x: 16, y: 144.4, w: 352, h: aHeat.reduce((s, r) => s + r.h, 0), ncols: 87, rows: aHeat });
dendChart({ x: 16, y: 37, w: 352, h: 103.3, brackets: aDend, top: true, xmax: 116, ymax: 305, color: '#444' });
txt('consensus matrix k=3', 186, 28.5, { size: 14, bold: true, anchor: 'c', color: '#000' });
box(408, 87, 46.5, 62, '#fff', 'border:1px solid #777;box-shadow:1px 1px 0 #bbb');
[['1','#b2df8a',98.7,102.8],['2','#a6cee3',114.3,118.3],['3','#1f78b4',129.8,133.9]].forEach(([s, c, y, ly]) => {
  box(420.7, y, 9.5, 8.2, c, 'border:1px solid #555');
  txt(s, 444.6, ly, { size: 13, anchor: 'c', color: '#000' });
});

// ---------- B
const stepSet = (t, s, color, width, dash) => ({ data: zip(t, s), showLine: true, stepped: true, pointRadius: 0, borderColor: color, borderWidth: width, borderDash: dash || [], clip: false });
const cens = (t, s, color) => ({ data: zip(t, s), showLine: false, pointStyle: 'cross', pointRadius: 3.2, pointBorderWidth: 1, pointBorderColor: color, pointBackgroundColor: color });
const K1 = '#4d6771', K2 = '#e6903f', K3 = '#0ca6de';
const kmAxis = { grid: { display: true, drawOnChartArea: false, tickLength: 3, color: '#000' }, border: { display: true, color: '#000', width: 1 } };
const yearTicks = s => { s.ticks = riskTimes.map(v => ({ value: v })); };
new Chart(mkCanvas(487, 27, 503, 338), {
  type: 'scatter',
  data: { datasets: [
    stepSet([0,9.5],[.5,.5],'#000',1,[4,3]), stepSet([4.92,4.92],[.5,0],'#000',1,[4,3]), stepSet([9.5,9.5],[.5,0],'#000',1,[4,3]),
    cens(c1CensT,c1CensS,K1), cens(c2CensT,c2CensS,K2), cens(c3CensT,c3CensS,K3),
    stepSet(c3Time,c3Surv,K3,2.4), stepSet(c2Time,c2Surv,K2,2.4), stepSet(c1Time,c1Surv,K1,2.4),
    stepSet(c1LowT,c1LowS,'#5c6f78',1,[3,2.5]), stepSet(c1UpT,c1UpS,'#5c6f78',1,[3,2.5]),
    stepSet(c2LowT,c2LowS,'#eda268',1,[3,2.5]), stepSet(c2UpT,c2UpS,'#eda268',1,[3,2.5]),
    stepSet(c3LowT,c3LowS,'#2fb4e4',1,[3,2.5]), stepSet(c3UpT,c3UpS,'#2fb4e4',1,[3,2.5])
  ] },
  options: {
    layout: { autoPadding: false, padding: { top: .7, right: 2.5 } },
    scales: {
      x: { ...kmAxis, min: -.5, max: 10.5, afterFit: s => { s.height = 26; noPad(s); }, afterBuildTicks: yearTicks,
        ticks: { padding: 0, maxRotation: 0, autoSkip: false, font: { size: 9.5 }, color: '#333' },
        title: { display: true, text: 'Time(years)', font: { size: 10.5 }, padding: 0, color: '#333' } },
      y: { ...kmAxis, min: -.049, max: 1.049, afterFit: s => { s.width = 35.5; noPad(s); },
        ticks: { stepSize: .25, includeBounds: false, padding: 1.5, font: { size: 9.5 }, color: '#333', callback: v => v.toFixed(2) },
        title: { display: true, text: 'Survival probability', font: { size: 10.5 }, padding: 0, color: '#333' } }
    }
  }
});
txt('P value = 2.675e−03', 552, 268.8, { size: 12.3, color: '#111' });
txt('Subtype', 941, 37.9, { size: 7.4, anchor: 'c', color: '#333' });
[['C1',K1,51],['C2',K2,64.2],['C3',K3,77.4]].forEach(([s, c, y]) => {
  box(928.6, y - .9, 10.6, 1.8, c); box(933, y - 2.5, 1.2, 5, c);
  txt(s, 944, y, { size: 8, color: '#333' });
});
txt('Number at risk', 522.5, 377, { size: 12, color: '#111' });
const riskRows = [riskC1, riskC2, riskC3], riskCols = [K1, K2, K3], riskNames = ['C1','C2','C3'];
new Chart(mkCanvas(487, 388, 503, 125), {
  type: 'scatter',
  data: { datasets: riskRows.map((r, i) => ({ data: r.map((v, j) => ({ x: riskTimes[j], y: i + 1 })), pointRadius: 0 })) },
  options: {
    layout: { autoPadding: false, padding: { right: 2.5 } },
    scales: {
      x: { ...kmAxis, min: -.5, max: 10.5, afterFit: s => { s.height = 25.8; noPad(s); }, afterBuildTicks: yearTicks,
        ticks: { padding: 0, maxRotation: 0, autoSkip: false, font: { size: 9.5 }, color: '#333' },
        title: { display: true, text: 'Time(years)', font: { size: 10.5 }, padding: 0, color: '#333' } },
      y: { ...kmAxis, reverse: true, min: .4, max: 3.6, afterFit: s => { s.width = 35.5; noPad(s); },
        ticks: { stepSize: 1, includeBounds: false, padding: 1.5, font: { size: 9.5 }, color: c => riskCols[c.tick.value - 1], callback: v => riskNames[v - 1] },
        title: { display: true, text: 'Subtype', font: { size: 10.5 }, padding: 0, color: '#333' } }
    }
  },
  plugins: [{ id: 'riskNumbers', afterDatasetsDraw(c) {
    const { ctx, scales: { x, y } } = c;
    ctx.save(); ctx.font = '10.5px ' + SANS; ctx.fillStyle = '#222'; ctx.textAlign = 'center'; ctx.textBaseline = 'middle';
    riskRows.forEach((r, i) => r.forEach((v, j) => ctx.fillText(v, x.getPixelForValue(riskTimes[j]), y.getPixelForValue(i + 1))));
    ctx.restore();
  } }]
});

// ---------- C
const P1 = '#3fa9c9', P2 = '#e8553e', P3 = '#0f9e83';
const ell = (x, y, line, fill) => ({ data: zip(x, y), showLine: true, tension: .4, fill: 'shape', backgroundColor: fill, borderColor: line, borderWidth: 1.8, pointRadius: 0, order: 6 });
const pts = (x, y, style, r, c, order) => ({ data: zip(x, y), pointStyle: style, pointRadius: r, pointBackgroundColor: c, pointBorderWidth: 0, order });
const dash0 = (x, y) => ({ data: zip(x, y), showLine: true, pointRadius: 0, borderColor: '#111', borderWidth: 2.2, borderDash: [8, 5], order: 4 });
const pcMajor = c => c.tick && Number.isInteger(c.tick.value / 2);
new Chart(mkCanvas(1019, 60, 432, 421), {
  type: 'scatter',
  data: { datasets: [
    ell(c1EllX,c1EllY,P1,'rgba(95,190,225,.13)'), ell(c2EllX,c2EllY,P2,'rgba(232,85,62,.13)'), ell(c3EllX,c3EllY,P3,'rgba(15,158,131,.11)'),
    dash0([-2.724,3.744],[0,0]), dash0([0,0],[-3.435,3.25]),
    pts(c1Pc1,c1Pc2,'circle',6.6,'rgba(90,190,220,.68)',3),
    pts(c2Pc1,c2Pc2,'triangle',9.8,'rgba(232,96,76,.7)',2),
    pts(c3Pc1,c3Pc2,'rect',8.6,'rgba(35,165,140,.75)',1)
  ] },
  options: {
    layout: { autoPadding: false, padding: { top: 1.5, right: 2.1 } },
    plugins: { frame: { lineColor: '#111', lineW: 2 } },
    scales: {
      x: { min: -2.724, max: 3.744, border: { display: false }, afterFit: s => { s.height = 62; noPad(s); },
        grid: { color: '#ebebeb', lineWidth: c => pcMajor(c) ? 2.6 : 1.1, tickLength: 6, tickColor: c => pcMajor(c) ? '#111' : CLEAR, tickWidth: 1.4 },
        ticks: { stepSize: 1, includeBounds: false, autoSkip: false, maxRotation: 0, padding: 5, font: { size: 18 }, color: '#111', callback: v => v % 2 === 0 ? String(v).replace('-', '−') : '' },
        title: { display: true, text: 'PC1 (46.1%)', font: { size: 20 }, padding: 0, color: '#111' } },
      y: { min: -3.435, max: 3.25, border: { display: false }, afterFit: s => { s.width = 67.8; noPad(s); },
        grid: { color: '#ebebeb', lineWidth: c => c.tick && Number.isInteger(c.tick.value) ? 2.6 : 1.1, tickLength: 6, tickColor: c => c.tick && Number.isInteger(c.tick.value) ? '#111' : CLEAR, tickWidth: 1.4 },
        ticks: { stepSize: .5, includeBounds: false, autoSkip: false, padding: 5, font: { size: 18 }, color: '#111', callback: v => Number.isInteger(v) ? String(v).replace('-', '−') : '' },
        title: { display: true, text: 'PC2 (31.5%)', font: { size: 20 }, padding: 0, color: '#111' } }
    }
  }
});
txt('Subtype', 1461.5, 191, { size: 17.5, color: '#111' });
[['C1',P1,208,219,'50%','none'],['C2',P2,230,240.7,'0','polygon(50% 0,100% 100%,0 100%)'],['C3',P3,252,262.3,'0','none']].forEach(([s, c, y, ly, rad, clip]) => {
  box(1461.5, y, 15.5, 20.5, 'rgba(255,255,255,1)', `border:2.5px solid ${c}`);
  box(1465, y + 6, 8.5, 8.5, '#d3d3d3', `border-radius:${rad};clip-path:${clip}`);
  txt(s, 1487, ly, { size: 14.5, color: '#111' });
});

// ---------- D
const dPal = ['#1f5fae','#3f7fc4','#7fb1dc','#b7d0e8','#e6e6e6','#f9d9c8','#f5a98e','#dd5f55','#b2182b'];
const iciCol = { S: '#e69f00', I: '#000000', N: '#808080' };
const dIciCodes = dec(dIci);
const D_ROW = 8.46, D_GAP = 2.45;
function dRows(cellsOf, annot) {
  const rows = [{ h: 4.5, colors: annot }, { h: 2.8 }];
  let k = 0;
  dBlocks.forEach((n, b) => {
    for (let i = 0; i < n; i++, k++) rows.push({ ...cellsOf(k), h: D_ROW });
    if (b < dBlocks.length - 1) rows.push({ h: D_GAP });
  });
  return rows;
}
const dTotalH = 7.3 + 75 * D_ROW + 6 * D_GAP;
heatChart({ x: 119.3, y: 562, w: 8.7, h: dTotalH, ncols: 1, rows: dRows(k => ({ colors: [iciCol[dIciCodes[k]]], label: dLabels[k] }), [CLEAR]), side: 'left', labelW: 66, tickPad: 2.6, font: { size: 8.8 } });
[130, 165, 199.7, 234].forEach((gx, g) => {
  heatChart({ x: gx, y: 562, w: 30, h: dTotalH, ncols: 3, rows: dRows(k => ({ colors: dec(dCells[k]).slice(g * 3, g * 3 + 3).map(c => c === 'x' ? '#bdbdbd' : dPal[+c]), cellBorder: true }), ['#3f5a66', '#e08e3c', '#12a5dc']) });
});
[['Co−stm',582],['Co−ihb',631],['Ligand',760],['Receptor',936],['adhesion',1032],['presentation',1106],['Other',1193]].forEach(([s, y]) => txt(s, 57.3, y, { size: 11.3, anchor: 'c', rot: -90 }));
txt('Cell', 43, 1032, { size: 11.3, anchor: 'c', rot: -90 });
txt('Antigen', 43, 1106, { size: 11.3, anchor: 'c', rot: -90 });
txt('ICI', 0, 1227, { size: 8.8, bold: true });
[['Inhibitory','#000',1235,1240],['N/A','#808080',1245,1250],['Stimulatory','#e69f00',1255,1260]].forEach(([s, c, y, ly]) => {
  box(0, y, 9.3, 10, c); txt(s, 12.7, ly, { size: 8.8 });
});
const dBar = ['#b2182b','#ef8a62','#f2e6e0','#e6e6e6','#67a9cf','#2166ac'];
[['mRNA','Expression',65.7],['Expression','vs. Methylation',123.3],['Amplification','Frequency',195.7],['Deletion','Frequency',261]].forEach(([a, b, x]) => {
  txt(a, x, 1227, { size: 8.8, bold: true }); txt(b, x, 1236.7, { size: 8.8, bold: true });
});
cbar(65.7, 1244, 10.7, 53.3, dBar, [['15',1246.7],['10',1262.7],['5',1278.3],['0',1295]], 8.8);
cbar(123.3, 1244, 10.3, 53.3, dBar, [['0.5',1246.7],['0',1262.7],['−0.5',1278.3],['−1',1295]], 8.8);
cbar(195.7, 1244, 10.3, 65.3, dBar, [['0.2',1246.7],['0.1',1258.3],['0',1270.3],['−0.1',1282.3],['−0.2',1294.3],['−0.3',1306.7]], 8.8);
cbar(261, 1244, 10.3, 72, dBar, [['0.3',1246.7],['0.2',1258.3],['0.1',1270.3],['0',1282.3],['−0.1',1294.3],['−0.2',1306],['−0.3',1318]], 8.8);
box(272, 1316.5, 30, 7, '#fff');

// ---------- E
const icPal = ['#5aa7d6','#2e6b90','#1d4a63','#050505','#4a4a00','#8f8f00','#ffff00'];
const timePal = ['#33ffff','#1a9a9a','#0c4a4a','#000000','#600000','#b00000','#ff0000'];
const infPal = ['#000004','#2a0b57','#781c6d','#bc3754','#ed6925','#fbb61a','#fcffa4'];
const virPal = ['#440154','#3b528b','#21918c','#27ad81','#5ec962','#addc30','#fde725'];
const eCols = (s, pal) => { const a = dec(s).map(c => pal[+c]); a.splice(45, 0, CLEAR); a.splice(19, 0, CLEAR); return a; };
const eSubtype = [].concat(Array(19).fill('#dc4f35'), [CLEAR], Array(26).fill('#3f5290'), [CLEAR], Array(14).fill('#2fa080'));
const eHeat = [
  { h: 9.7, colors: eCols(eImmune, infPal), label: 'ImmuneScore' }, { h: 1.7 },
  { h: 9.6, colors: eCols(eStromal, virPal), label: 'StromalScore' }, { h: 2 },
  { h: 9.4, colors: eSubtype, label: 'Subtype' }, { h: 2.6 }
];
eIciRows.forEach((r, i) => eHeat.push({ h: 11.49, colors: eCols(r, icPal), label: eIciLabels[i] }));
eTimeRows.forEach((blk, b) => {
  eHeat.push({ h: [9.3, 3.6, 3.7][b] });
  blk.forEach((r, i) => eHeat.push({ h: 11.12, colors: eCols(r, timePal), label: eTimeLabels[b][i] }));
});
heatChart({ x: 343.6, y: 562.3, w: 265.3, h: eHeat.reduce((s, r) => s + r.h, 0), ncols: 61, rows: eHeat, side: 'right', labelW: 134, tickPad: 3,
  font: c => ({ size: 9.7, weight: c.index < 3 ? 'bold' : 'normal' }) });
const eLeg = 746.8;
txt('ImmuneScore', eLeg, 584.3, { size: 9.7, bold: true });
cbar(eLeg, 594, 10, 57, ['#fcffa4','#f98e09','#bc3754','#57106e','#000004'], [['2',595],['1',608],['0',621],['−1',635],['−2',648]], 9.7);
txt('StromalScore', eLeg, 664.7, { size: 9.7, bold: true });
cbar(eLeg, 672.7, 10, 58.3, ['#fde725','#5ec962','#21918c','#3b528b','#440154'], [['2',675.7],['1',689],['0',702.3],['−1',715.7],['−2',728.7]], 9.7);
txt('Subtype', eLeg, 745, { size: 9.7, bold: true });
[['C1','#dc4f35',754,759.3],['C2','#3f5290',765,770],['C3','#2fa080',776,781]].forEach(([s, c, y, ly]) => { box(eLeg, y, 10, 10, c); txt(s, 760, ly, { size: 9.7 }); });
txt('ICI', eLeg, 800.7, { size: 9.7, bold: true });
cbar(eLeg, 809.3, 10, 57.4, ['#ffff00','#808000','#000000','#2f6f9f','#87cefa'], [['2',811.7],['1',825],['0',838.3],['−1',851.7],['−2',865]], 9.7);
txt('TIME', eLeg, 881, { size: 9.7, bold: true });
cbar(eLeg, 889.3, 10, 57.4, ['#ff0000','#800000','#000000','#008080','#00ffff'], [['1',891.7],['0.5',905],['0',918.3],['−0.5',931.7],['−1',945]], 9.7);

// ---------- F, G, H
const enrichPal = ['#00ff00','#a8f5a8','#ffffff','#ffb0b0','#ff0000'];
const G1 = '#1f6fb0', G2 = '#e28a2b', G3 = '#6d97b0';
function kegg(o) {
  const n = dec(o.rows[0]).length;
  const band = [].concat(Array(o.split).fill(o.cols[0]), ['#ffffff'], Array(n - o.split - 1).fill(o.cols[1]));
  heatChart({ x: o.x, y: o.annotY, w: o.w, h: 7.4, ncols: n, rows: [{ h: 7.4, colors: band }], frame: '#999', frameW: .6 });
  heatChart({ x: o.x, y: o.y, w: o.w, h: o.h, ncols: n, side: 'right', labelW: 270, tickPad: 4.5, frame: '#333',
    rows: o.rows.map((r, i) => ({ h: o.h / o.rows.length, colors: dec(r).map(c => enrichPal[+c]), label: 'KEGG_' + o.labels[i] })),
    font: { family: SERIF, size: 6.8 } });
  dendChart({ x: o.dendX, y: o.y, w: o.x - 3 - o.dendX, h: o.h, brackets: o.dend, xmax: o.dmax, ymax: o.rows.length });
  txt('Group', o.x - 2.8, o.annotY + 4, { size: 6.6, font: SERIF, anchor: 'r' });
  const L = o.legX, Y = o.legY;
  txt('Enrich score', L, Y, { size: 6.6, font: SERIF });
  box(L, Y + 4.3, 57, 11.7, 'linear-gradient(to right,#00ff00,#ffffff,#ff0000)');
  ['−1.0','−0.5','0.0','0.5','1.0'].forEach((s, i) => {
    box(L + i * 14.25 - .3, Y + 14, .6, 3, '#333');
    txt(s, L + i * 14.25, Y + 23.5, { size: 6.6, font: SERIF, anchor: 'c' });
  });
  txt('Group:', L, Y + 32.5, { size: 6.6, font: SERIF });
  o.names.forEach((s, i) => {
    box(L, Y + 36 + i * 7.8, 6.5, 6.5, o.cols[i], 'border-radius:50%');
    txt(s, L + 8.3, Y + 39.5 + i * 7.8, { size: 6.6, font: SERIF });
  });
}
kegg({ x: 978.3, w: 226.4, y: 584, h: 309.7, annotY: 573.3, rows: fRows, labels: fLabels, split: 19, cols: [G1, G2], names: ['C1','C2'], dend: fDend, dendX: 949, dmax: 65, legX: 1475, legY: 589 });
kegg({ x: 357.6, w: 226.1, y: 1001, h: 309.3, annotY: 989.3, rows: gRows, labels: gLabels, split: 28, cols: [G2, G3], names: ['C2','C3'], dend: gDend, dendX: 327.9, dmax: 65, legX: 854.6, legY: 1006 });
kegg({ x: 976.4, w: 226.9, y: 961.3, h: 343, annotY: 950, rows: hRows, labels: hLabels, split: 25, cols: [G1, G3], names: ['C1','C3'], dend: hDend, dendX: 949.3, dmax: 60, legX: 1475, legY: 966.7 });

// ---------- I
const ringCol = { C1: '#6a78bd', C2: '#f7ef83', C3: '#d4bfdd', Basal: '#9c1b1f', Her2: '#8e7497', LumA: '#000000', Normal: '#a1c6ea', IS1: '#9cae58', IS2: '#6aa1ab', IS3: '#e3b32b', IS4: '#85552f' };
const ring = (vals, tags, weight) => ({ data: vals, backgroundColor: tags.map(t => ringCol[t]), borderWidth: 0, weight });
new Chart(mkCanvas(27, 1362, 518, 518), {
  type: 'doughnut',
  data: { datasets: [
    ring(subtypeCounts, subtypeTags, 46.5),
    { data: [1], backgroundColor: [CLEAR], borderWidth: 0, weight: 4.5 },
    ring(tcgaCounts, tcgaTags, 48),
    { data: [1], backgroundColor: [CLEAR], borderWidth: 0, weight: 4 },
    ring(immuneCounts, immuneTags, 48)
  ] },
  options: { cutout: '41.7%', rotation: 1, plugins: {}, layout: { padding: 0 } },
  plugins: [{ id: 'ringGaps', afterDatasetsDraw(c) {
    const { ctx } = c;
    ctx.save(); ctx.strokeStyle = '#fff'; ctx.lineWidth = 4.5;
    c.getDatasetMeta(0).data.forEach(a => {
      ctx.beginPath();
      ctx.moveTo(a.x + 100 * Math.cos(a.startAngle), a.y + 100 * Math.sin(a.startAngle));
      ctx.lineTo(a.x + (a.outerRadius + 2) * Math.cos(a.startAngle), a.y + (a.outerRadius + 2) * Math.sin(a.startAngle));
      ctx.stroke();
    });
    ctx.restore();
  } }]
});
txt('TNBC', 287.5, 1608.6, { size: 20, anchor: 'c', color: '#111' });
txt('samples', 287.5, 1633.7, { size: 20, anchor: 'c', color: '#111' });
txt('C3', 476.5, 1430.6, { size: 9.5, anchor: 'c', rot: 45 });
txt('C2', 24, 1560, { size: 9.5, anchor: 'c', rot: -78 });
txt('C1', 433, 1846, { size: 9.5, anchor: 'c', rot: -33 });
function ringLegend(title, titleY, items, firstY) {
  txt(title, 581.7, titleY, { size: 11, bold: true, color: '#111' });
  items.forEach((s, i) => {
    const y = firstY + i * 12.7;
    box(581.7, y, 12.3, 12, ringCol[s]);
    txt(title === 'TCGA Subtype' ? 'BRCA.' + s : s, 597.7, y + 6, { size: 11.4 });
  });
}
ringLegend('Molecular subtype', 1520.8, ['C1','C2','C3'], 1531.5);
ringLegend('TCGA Subtype', 1586.2, ['Basal','Her2','LumA','Normal'], 1596.5);
ringLegend('Immune Subtype', 1664.4, ['IS1','IS2','IS3','IS4'], 1675);
</script>
</body>
</html>
